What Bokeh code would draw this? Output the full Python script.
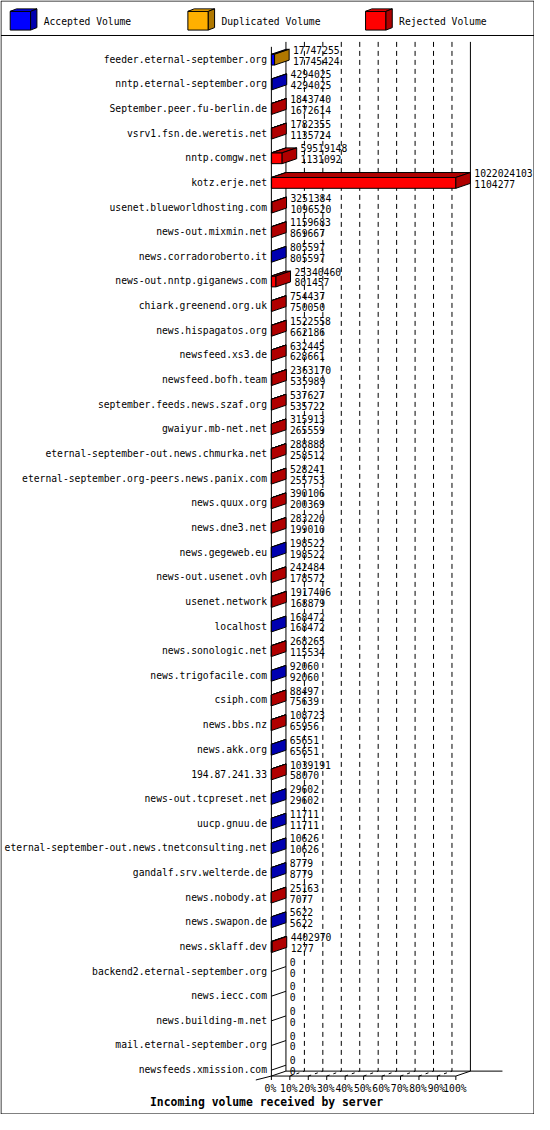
from bokeh.plotting import figure
from bokeh.models import Range1d, ColumnDataSource
from bokeh.core.properties import value
from bokeh.embed import file_html
from bokeh.resources import INLINE

# ---------------- data ----------------
servers = [
    "feeder.eternal-september.org", "nntp.eternal-september.org",
    "September.peer.fu-berlin.de", "vsrv1.fsn.de.weretis.net",
    "nntp.comgw.net", "kotz.erje.net", "usenet.blueworldhosting.com",
    "news-out.mixmin.net", "news.corradoroberto.it",
    "news-out.nntp.giganews.com", "chiark.greenend.org.uk",
    "news.hispagatos.org", "newsfeed.xs3.de", "newsfeed.bofh.team",
    "september.feeds.news.szaf.org", "gwaiyur.mb-net.net",
    "eternal-september-out.news.chmurka.net",
    "eternal-september.org-peers.news.panix.com", "news.quux.org",
    "news.dne3.net", "news.gegeweb.eu", "news-out.usenet.ovh",
    "usenet.network", "localhost", "news.sonologic.net",
    "news.trigofacile.com", "csiph.com", "news.bbs.nz", "news.akk.org",
    "194.87.241.33", "news-out.tcpreset.net", "uucp.gnuu.de",
    "eternal-september-out.news.tnetconsulting.net",
    "gandalf.srv.welterde.de", "news.nobody.at", "news.swapon.de",
    "news.sklaff.dev", "backend2.eternal-september.org", "news.iecc.com",
    "news.building-m.net", "mail.eternal-september.org",
    "newsfeeds.xmission.com",
]
total_volume = [
    17747255, 4294025, 1843740, 1782355, 59519148, 1022024103, 3251384,
    1159683, 805597, 25340460, 754437, 1522558, 632445, 2363170, 537627,
    315913, 288888, 528241, 390106, 283220, 198522, 242484, 1917406,
    168472, 268265, 92060, 88497, 108723, 65651, 1039191, 29602, 11711,
    10626, 8779, 25163, 5622, 4402970, 0, 0, 0, 0, 0,
]
accepted_volume = [
    17745424, 4294025, 1672614, 1135724, 1131092, 1104277, 1096520,
    869667, 805597, 801457, 750050, 662186, 628661, 535989, 535722,
    265559, 258512, 255753, 200369, 199010, 198522, 178572, 168879,
    168472, 115534, 92060, 75639, 65956, 65651, 58070, 29602, 11711,
    10626, 8779, 7077, 5622, 1277, 0, 0, 0, 0, 0,
]
duplicated_volume = [1831] + [0] * 41
rejected_volume = [t - a - d for t, a, d in zip(total_volume, accepted_volume, duplicated_volume)]

series_names = ["Accepted Volume", "Duplicated Volume", "Rejected Volume"]
tick_values = [0, 10, 20, 30, 40, 50, 60, 70, 80, 90, 100]
tick_labels = ["0%", "10%", "20%", "30%", "40%", "50%", "60%", "70%", "80%", "90%", "100%"]
chart_title = "Incoming volume received by server"

# ---------------- style / layout ----------------
front_colors = ["#0000FF", "#FFB000", "#FF0000"]
dark_colors = ["#0000B0", "#B07800", "#B00000"]
FONT = value("DejaVu Sans Mono")
FS = "9.7px"

W, H = 534, 1114           # canvas (fits 550x1130 window with 8px margin)
REF_W, REF_H = 550, 1130   # reference layout space
X0, XS = 279.0, 1.9        # ref px of 0 %, ref px per %
Y0, YS = 59.0, 25.0        # ref px of first row, ref px per row


def px(x):
    return (x - X0) / XS


def py(y):
    return (y - Y0) / YS


DX = 15 / XS      # depth offset (percent units)
DY = 5 / YS       # depth offset (row units, upward)
FH = 5.5 / YS     # half height of front face
FC = 1.0 / YS     # front face centre offset

p = figure(width=W, height=H,
           x_range=Range1d(px(0), px(REF_W)),
           y_range=Range1d(py(REF_H), py(0)),
           output_backend="svg", toolbar_location=None, title=None,
           min_border=0, x_axis_type=None, y_axis_type=None)
p.outline_line_color = None
p.background_fill_color = "white"
p.border_fill_color = "white"

n = len(servers)
rows = list(range(n))
vmax = max(total_volume)

# ---------- outer frame and legend separator ----------
p.line([px(0.5), px(549.5), px(549.5), px(0.5), px(0.5)],
       [py(0.5), py(0.5), py(1129.5), py(1129.5), py(0.5)],
       line_color="black", line_width=1)
p.line([px(0.5), px(549.5)], [py(35.5), py(35.5)], line_color="black", line_width=1)

# ---------- back wall grid ----------
for k in tick_values[1:-1]:
    p.line([k + DX, k + DX], [py(42), py(1086)], line_color="black",
           line_width=1, line_dash="5 4")
p.line([100 + DX, 100 + DX], [py(42), py(1086)], line_color="black", line_width=1)
p.line([DX, DX], [py(42), py(1086)], line_color="black", line_width=1)
p.line([0, 0], [py(47), py(1091)], line_color="black", line_width=1)

# ---------- floor ----------
p.line([DX, px(517)], [py(1086), py(1086)], line_color="black", line_width=1)
p.line([px(263), 0, DX], [py(1095), py(1091), py(1086)], line_color="black", line_width=1)
p.line([0, 100], [py(1091), py(1091)], line_color="black", line_width=1)
p.line([100, 100 + DX], [py(1091), py(1086)], line_color="black", line_width=1)
for k in tick_values:
    p.line([k, k], [py(1091), py(1095)], line_color="black", line_width=1)
for k in tick_values[1:-1]:
    p.line([k, k + DX], [py(1091), py(1086)], line_color="black",
           line_width=1, line_dash="3 4")

# ---------- bars ----------
fq = dict(l=[], r=[], t=[], b=[], c=[])
tp = dict(xs=[], ys=[], c=[])
sp = dict(xs=[], ys=[], c=[])
zl = dict(xs=[], ys=[])
for i in rows:
    segs = [accepted_volume[i], duplicated_volume[i], rejected_volume[i]]
    yt = i + FC - FH
    yb = i + FC + FH
    start = 0.0
    last = None
    end = 0.0
    for s, v in enumerate(segs):
        if v <= 0:
            continue
        a = 100.0 * start / vmax
        b = 100.0 * (start + v) / vmax
        start += v
        fq["l"].append(a); fq["r"].append(b); fq["t"].append(yt); fq["b"].append(yb)
        fq["c"].append(front_colors[s])
        tp["xs"].append([a, b, b + DX, a + DX])
        tp["ys"].append([yt, yt, yt - DY, yt - DY])
        tp["c"].append(dark_colors[s])
        last = s
        end = b
    if last is None:
        zl["xs"].append([0, DX]); zl["ys"].append([i + FC, i + FC - DY])
    else:
        sp["xs"].append([end, end + DX, end + DX, end])
        sp["ys"].append([yt, yt - DY, yb - DY, yb])
        sp["c"].append(dark_colors[last])

p.quad(left="l", right="r", top="t", bottom="b", fill_color="c",
       line_color="black", line_width=1, source=ColumnDataSource(fq))
p.patches(xs="xs", ys="ys", fill_color="c", line_color="black", line_width=1,
          source=ColumnDataSource(tp))
p.patches(xs="xs", ys="ys", fill_color="c", line_color="black", line_width=1,
          source=ColumnDataSource(sp))
p.multi_line(xs="xs", ys="ys", line_color="black", line_width=1,
             source=ColumnDataSource(zl))

# ---------- value labels ----------
ends = [100.0 * t / vmax for t in total_volume]
vx = [e + DX + 4 / XS for e in ends]
p.text(x=vx, y=[i - 9 / YS for i in rows], text=[str(v) for v in total_volume],
       text_font=FONT, text_font_size=FS, text_baseline="middle", text_align="left",
       text_color="black")
p.text(x=vx, y=[i + 2 / YS for i in rows], text=[str(v) for v in accepted_volume],
       text_font=FONT, text_font_size=FS, text_baseline="middle", text_align="left",
       text_color="black")

# ---------- server labels ----------
p.text(x=[px(274.5)] * n, y=[i + 0.5 / YS for i in rows], text=servers,
       text_font=FONT, text_font_size=FS, text_baseline="middle", text_align="right",
       text_color="black")

# ---------- x tick labels ----------
p.text(x=[k - 1 / XS for k in tick_values], y=[py(1103.5)] * len(tick_values),
       text=tick_labels, text_font=FONT, text_font_size=FS,
       text_baseline="middle", text_align="center", text_color="black")

# ---------- title ----------
p.text(x=[px(274)], y=[py(1117)], text=[chart_title], text_font=FONT,
       text_font_size="11.4px", text_font_style="bold", text_baseline="middle",
       text_align="center", text_color="black")

# ---------- legend (3D cubes) ----------
leg_x = [10.0, 193.0, 376.0]
cw, ch, cdx, cdy = 21.0, 19.0, 6.5, 2.5
ctop = 11.0
lf = dict(xs=[], ys=[], c=[])
for s, lx in enumerate(leg_x):
    # front
    lf["xs"].append([px(lx), px(lx + cw), px(lx + cw), px(lx)])
    lf["ys"].append([py(ctop), py(ctop), py(ctop + ch), py(ctop + ch)])
    lf["c"].append(front_colors[s])
    # top
    lf["xs"].append([px(lx), px(lx + cw), px(lx + cw + cdx), px(lx + cdx)])
    lf["ys"].append([py(ctop), py(ctop), py(ctop - cdy), py(ctop - cdy)])
    lf["c"].append(front_colors[s])
    # side
    lf["xs"].append([px(lx + cw), px(lx + cw + cdx), px(lx + cw + cdx), px(lx + cw)])
    lf["ys"].append([py(ctop), py(ctop - cdy), py(ctop + ch - cdy), py(ctop + ch)])
    lf["c"].append(dark_colors[s])
p.patches(xs="xs", ys="ys", fill_color="c", line_color="black", line_width=1,
          source=ColumnDataSource(lf))
p.text(x=[px(lx + 34.5) for lx in leg_x], y=[py(21)] * 3, text=series_names,
       text_font=FONT, text_font_size=FS, text_baseline="middle", text_align="left",
       text_color="black")

open("out.html", "w").write(file_html(p, INLINE))
